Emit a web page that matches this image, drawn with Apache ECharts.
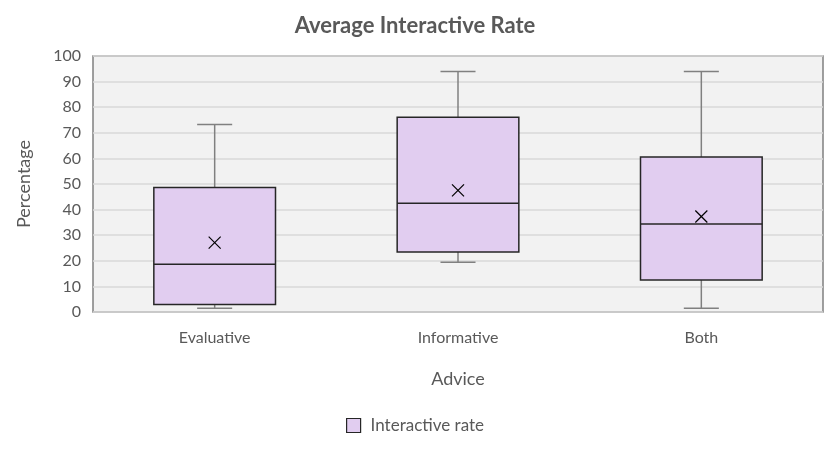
<!DOCTYPE html>
<html>
<head>
<meta charset="utf-8">
<script src="https://cdn.jsdelivr.net/npm/echarts@6/dist/echarts.min.js"></script>
<style>
  html, body { margin: 0; padding: 0; background: #fff; }
  #chart { width: 830px; height: 452px; }
</style>
</head>
<body>
<div id="chart"></div>
<script>
// values
var categories = ['Evaluative', 'Informative', 'Both'];
var minVals = [1.5, 19.4, 1.5];
var q1Vals = [2.9, 23.4, 12.5];
var medianVals = [18.7, 42.5, 34.4];
var q3Vals = [48.6, 76.1, 60.5];
var maxVals = [73.2, 93.9, 93.9];
var meanVals = [27.1, 47.5, 37.3];

var FONT = 'Lato, "Open Sans", sans-serif';
var TEXT = '#595959';
var FILL = '#e1cdf0';
var EDGE = '#262626';

var boxData = categories.map(function (c, i) {
    return [i, minVals[i], q1Vals[i], medianVals[i], q3Vals[i], maxVals[i], meanVals[i]];
});

function renderBox(params, api) {
    var i = api.value(0);
    var band = api.size([1, 0])[0];
    var half = band * 0.25;
    var cap = band * 0.072;
    var lo = api.coord([i, api.value(1)]);
    var q1 = api.coord([i, api.value(2)]);
    var md = api.coord([i, api.value(3)]);
    var q3 = api.coord([i, api.value(4)]);
    var hi = api.coord([i, api.value(5)]);
    var mn = api.coord([i, api.value(6)]);
    var x = lo[0];
    var whisker = { stroke: '#808080', lineWidth: 1.5 };
    var k = 6;
    return {
        type: 'group',
        children: [
            { type: 'line', shape: { x1: x, y1: hi[1], x2: x, y2: q3[1] }, style: whisker },
            { type: 'line', shape: { x1: x, y1: lo[1], x2: x, y2: q1[1] }, style: whisker },
            { type: 'line', shape: { x1: x - cap, y1: hi[1], x2: x + cap, y2: hi[1] }, style: whisker },
            { type: 'line', shape: { x1: x - cap, y1: lo[1], x2: x + cap, y2: lo[1] }, style: whisker },
            {
                type: 'rect',
                shape: { x: x - half, y: q3[1], width: half * 2, height: q1[1] - q3[1] },
                style: { fill: FILL, stroke: EDGE, lineWidth: 1.5 }
            },
            { type: 'line', shape: { x1: x - half, y1: md[1], x2: x + half, y2: md[1] }, style: { stroke: EDGE, lineWidth: 1.5 } },
            { type: 'line', shape: { x1: x - k, y1: mn[1] - k, x2: x + k, y2: mn[1] + k }, style: { stroke: '#000', lineWidth: 1.2 } },
            { type: 'line', shape: { x1: x - k, y1: mn[1] + k, x2: x + k, y2: mn[1] - k }, style: { stroke: '#000', lineWidth: 1.2 } }
        ]
    };
}

var chart = echarts.init(document.getElementById('chart'));
var option = {
    animation: false,
    textStyle: { fontFamily: FONT },
    title: {
        text: 'Average Interactive Rate',
        left: 'center',
        top: 10,
        textStyle: { fontFamily: FONT, fontSize: 22, fontWeight: 'bold', color: TEXT }
    },
    legend: {
        bottom: 13,
        left: 'center',
        icon: 'rect',
        itemWidth: 14,
        itemHeight: 14,
        itemGap: 8,
        textStyle: { fontFamily: FONT, fontSize: 17, color: TEXT, padding: [0, 0, 0, 5] },
        data: [{ name: 'Interactive rate', itemStyle: { color: FILL, borderColor: EDGE, borderWidth: 1.2 } }]
    },
    grid: {
        left: 93,
        right: 7,
        top: 56,
        bottom: 140,
        show: true,
        backgroundColor: '#f2f2f2',
        borderColor: '#808080',
        borderWidth: 1.5
    },
    xAxis: {
        type: 'category',
        data: categories,
        name: 'Advice',
        nameLocation: 'middle',
        nameGap: 58,
        nameTextStyle: { fontFamily: FONT, fontSize: 18, color: TEXT },
        axisLine: { show: false },
        axisTick: { show: false },
        axisLabel: { margin: 18, fontFamily: FONT, fontSize: 16, color: TEXT }
    },
    yAxis: {
        type: 'value',
        min: 0,
        max: 100,
        interval: 10,
        name: 'Percentage',
        nameLocation: 'middle',
        nameGap: 60,
        nameTextStyle: { fontFamily: FONT, fontSize: 18, color: TEXT },
        axisLine: { show: false },
        axisTick: { show: false },
        axisLabel: { margin: 12, fontFamily: FONT, fontSize: 16, color: TEXT },
        splitLine: { lineStyle: { color: '#d9d9d9', width: 1.5 } }
    },
    series: [{
        name: 'Interactive rate',
        type: 'custom',
        renderItem: renderBox,
        itemStyle: { color: FILL, borderColor: EDGE },
        encode: { x: 0, y: [1, 2, 3, 4, 5, 6] },
        data: boxData
    }]
};
chart.setOption(option);
</script>
</body>
</html>
